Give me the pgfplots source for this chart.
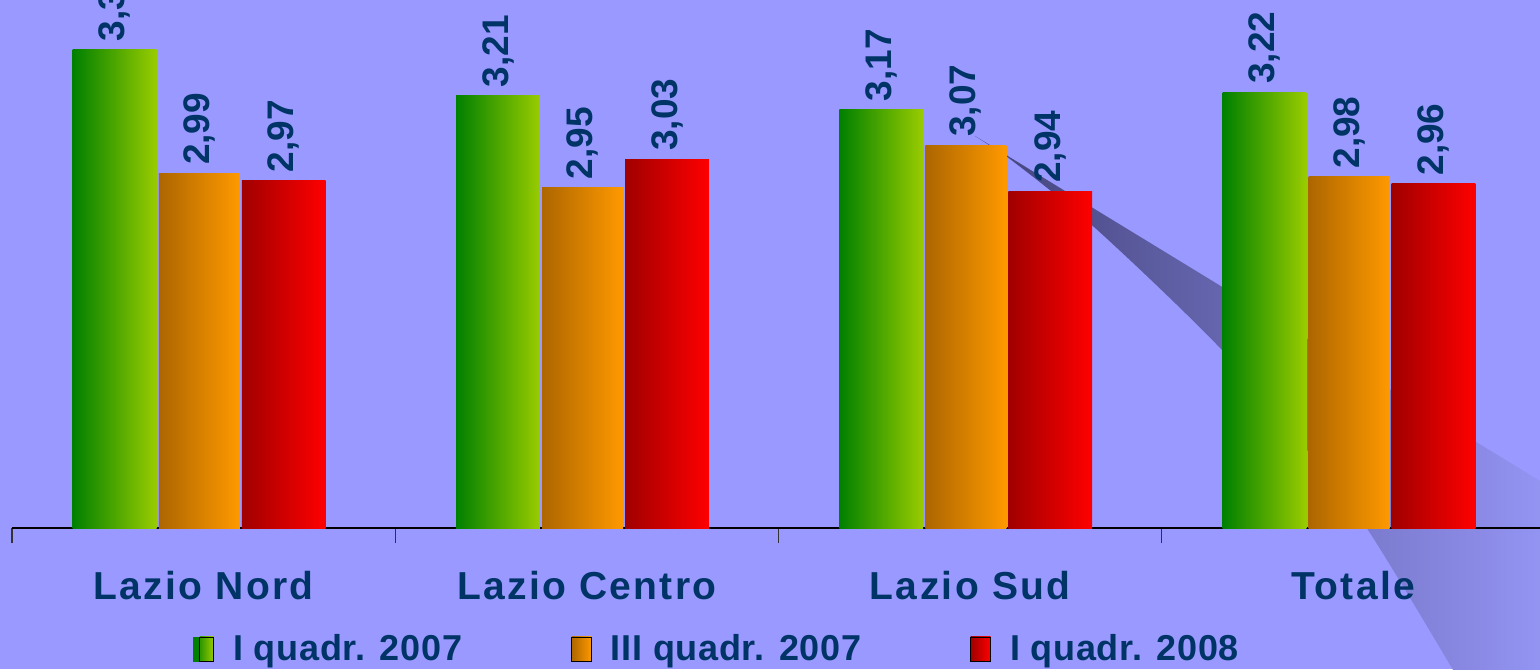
\documentclass[border=0pt]{standalone}
\usepackage{pgfplots}
\pgfplotsset{compat=1.18}
\usepackage{fontspec}
\setmainfont{Liberation Sans}
\newfontfamily\catfont{Liberation Sans}[LetterSpace=6]
\newfontfamily\legfont{Liberation Sans}[LetterSpace=2]
\definecolor{bg}{HTML}{9999FF}
\definecolor{txt}{HTML}{003366}
\definecolor{gL}{HTML}{008000}
\definecolor{gR}{HTML}{99CC00}
\definecolor{oL}{HTML}{AD6600}
\definecolor{oR}{HTML}{FF9900}
\definecolor{rL}{HTML}{A00000}
\definecolor{rR}{HTML}{FF0000}
\definecolor{swL}{HTML}{42427A}
\definecolor{swR}{HTML}{9494F4}

% one bar: x position, value, colour prefix, width
\newcommand{\onebar}[4]{\addplot[ybar, bar width=#4, bar shift=0pt, draw=none, left color=#3L, right color=#3R, forget plot] coordinates {(#1,#2)};}

\begin{document}
\begin{tikzpicture}
\useasboundingbox (0,0) rectangle (770pt,334.5pt);
\fill[bg] (0,0) rectangle (770pt,334.5pt);
\begin{scope}[x=0.5pt,y=-0.5pt,yshift=334.5pt]
\shade[left color=swL, right color=swR] (975,136) -- (1545,484) -- (1545,675) -- (1456,675) -- plot[smooth,tension=0.55] coordinates {(1456,675)(1368,530)(1307,450)(1222,350)(1094,227)(1006,156)} -- cycle;
\end{scope}
\begin{axis}[
  at={(6pt,70.5pt)}, anchor=south west,
  scale only axis, width=766.5pt, height=265.2pt,
  xmin=-0.5, xmax=3.5, ymin=1.987, ymax=3.487,
  axis x line=bottom, axis y line=none,
  axis line style={-, black, line width=0.7pt},
  xtick={0,1,2,3},
  xticklabels={Lazio Nord, Lazio Centro, Lazio Sud, Totale},
  major tick length=0pt,
  minor xtick={-0.5,0.5,1.5,2.5}, minor tick length=7.5pt, tick align=outside,
  minor tick style={black!80, line width=0.6pt},
  xticklabel style={font=\catfont\bfseries\fontsize{19.5}{22}\selectfont, text=txt, anchor=base, yshift=-35.5pt},
  clip=false,
  nodes near coords={\pgfmathprintnumber[fixed,fixed zerofill,precision=2,use comma,assume math mode=true]{\pgfplotspointmeta}},
  nodes near coords style={rotate=90, anchor=west, font=\bfseries\fontsize{18.5}{20}\selectfont, text=txt, inner xsep=4pt, inner ysep=0pt},
  legend columns=3,
  legend style={at={(0.1181,-0.2281)}, anchor=west, draw=none, fill=none, inner sep=0pt,
    font=\legfont\bfseries\fontsize{18}{20}\selectfont, text=txt,
    nodes={inner sep=0pt},
    /tikz/every odd column/.append style={column sep=9.5pt},
    /tikz/every even column/.append style={column sep=54.5pt}},
  legend cell align=left,
]
% I quadr. 2007
\onebar{-0.232}{3.34}{g}{0.219}
\onebar{0.768}{3.21}{g}{0.219}
\onebar{1.768}{3.17}{g}{0.219}
\onebar{2.768}{3.22}{g}{0.219}
% III quadr. 2007
\onebar{-0.011}{2.99}{o}{0.211}
\onebar{0.989}{2.95}{o}{0.211}
\onebar{1.989}{3.07}{o}{0.211}
\onebar{2.989}{2.98}{o}{0.211}
% I quadr. 2008
\onebar{0.209}{2.97}{r}{0.219}
\onebar{1.209}{3.03}{r}{0.219}
\onebar{2.209}{2.94}{r}{0.219}
\onebar{3.209}{2.96}{r}{0.219}

\addlegendimage{legend image code/.code={\fill[gL] (0pt,-6pt) rectangle (2.5pt,6pt); \shade[left color=gL!70!gR, right color=gR] (3pt,-6pt) rectangle (10pt,6pt);}}
\addlegendentry{I quadr. 2007}
\addlegendimage{legend image code/.code={\shade[left color=oL, right color=oR] (0pt,-6pt) rectangle (10pt,6pt);}}
\addlegendentry{III quadr. 2007}
\addlegendimage{legend image code/.code={\shade[left color=rL, right color=rR] (0pt,-6pt) rectangle (10pt,6pt);}}
\addlegendentry{I quadr. 2008}
\end{axis}
\end{tikzpicture}
\end{document}
